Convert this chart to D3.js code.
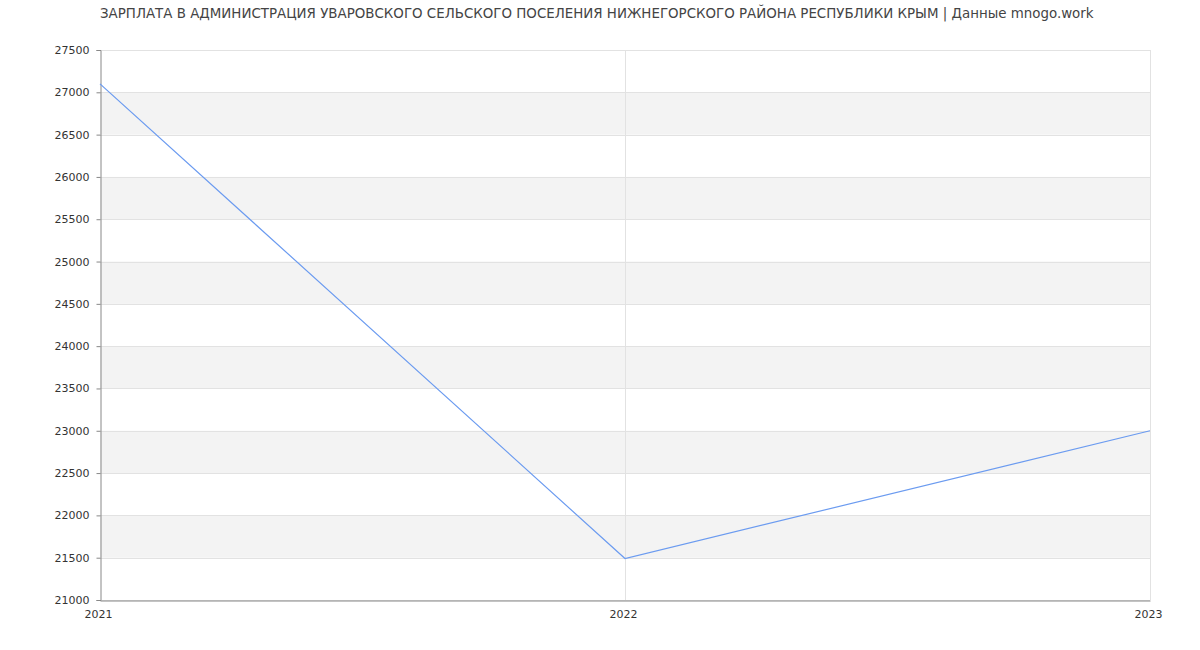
<!DOCTYPE html>
<html><head><meta charset="utf-8">
<script src="https://cdn.jsdelivr.net/npm/d3@7"></script>
<style>body{margin:0;background:#fff;} text{font-family:"DejaVu Sans",sans-serif;}</style>
</head><body>
<svg id="c" width="1200" height="650"></svg>
<script>
const title = "ЗАРПЛАТА В АДМИНИСТРАЦИЯ УВАРОВСКОГО СЕЛЬСКОГО ПОСЕЛЕНИЯ НИЖНЕГОРСКОГО РАЙОНА РЕСПУБЛИКИ КРЫМ | Данные mnogo.work";
const years = [2021, 2022, 2023];
const salaries = [27100, 21490, 23000];
const yTicks = [21000, 21500, 22000, 22500, 23000, 23500, 24000, 24500, 25000, 25500, 26000, 26500, 27000, 27500];

const svg = d3.select("#c");
const m = {l:100, r:1150, t:50, b:600};
const x = d3.scaleLinear().domain([2021, 2023]).range([m.l, m.r]);
const y = d3.scaleLinear().domain([21000, 27500]).range([m.b, m.t]);

// bands
const bands = [];
for (let i = 0; i < yTicks.length - 1; i++) if (i % 2 === 1) bands.push([yTicks[i], yTicks[i+1]]);
svg.append("g").selectAll("rect").data(bands).join("rect")
  .attr("x", m.l).attr("width", m.r - m.l)
  .attr("y", d => y(d[1])).attr("height", d => y(d[0]) - y(d[1]))
  .attr("fill", "#f3f3f3");

// horizontal grid
svg.append("g").selectAll("line").data(yTicks).join("line")
  .attr("x1", m.l).attr("x2", m.r)
  .attr("y1", d => Math.round(y(d)) + 0.5).attr("y2", d => Math.round(y(d)) + 0.5)
  .attr("stroke", "#e2e2e2");
// vertical grid
svg.append("g").selectAll("line").data(years.slice(1)).join("line")
  .attr("x1", d => Math.round(x(d)) + 0.5).attr("x2", d => Math.round(x(d)) + 0.5)
  .attr("y1", m.t).attr("y2", m.b)
  .attr("stroke", "#e2e2e2");

// y axis
const ya = d3.axisLeft(y).tickValues(yTicks).tickSize(4).tickPadding(7).tickFormat(d3.format("d"));
const gy = svg.append("g").attr("transform", `translate(${m.l + 0.5},0)`).call(ya);
gy.select(".domain").attr("stroke", "#888");
gy.selectAll(".tick line").attr("stroke", "#888");
gy.selectAll("text").attr("font-size", 11).attr("fill", "#333").attr("font-family", "DejaVu Sans");

// x axis
const xa = d3.axisBottom(x).tickValues(years).tickSize(0).tickPadding(10).tickFormat(d3.format("d"));
const gx = svg.append("g").attr("transform", `translate(0,${m.b + 0.5})`).call(xa);
gx.select(".domain").attr("stroke", "#888");
gx.selectAll("text").attr("font-size", 11).attr("fill", "#333").attr("font-family", "DejaVu Sans")
  .attr("dx", -2);

// line
const data = years.map((yr, i) => ({yr, v: salaries[i]}));
svg.append("path").datum(data)
  .attr("d", d3.line().x(d => x(d.yr)).y(d => y(d.v)))
  .attr("fill", "none").attr("stroke", "#6b9bf0").attr("stroke-width", 1.2);

// title
svg.append("text").attr("x", 100).attr("y", 18).attr("text-anchor", "start")
  .attr("font-size", 13.4).attr("fill", "#444").text(title);
</script>
</body></html>
